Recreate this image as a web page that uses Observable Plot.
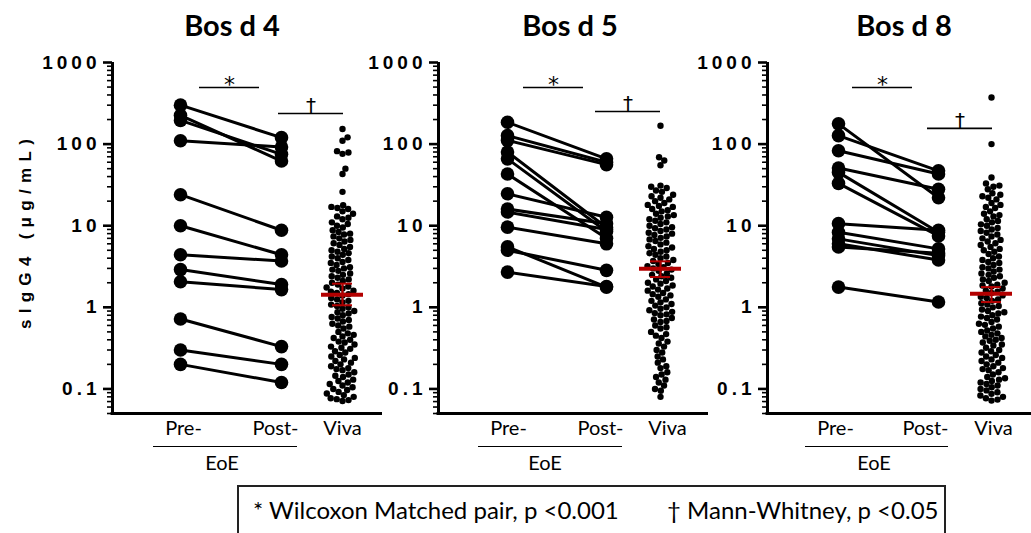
<!DOCTYPE html>
<html><head><meta charset="utf-8">
<script src="https://cdn.jsdelivr.net/npm/d3@7"></script>
<script src="https://cdn.jsdelivr.net/npm/@observablehq/plot@0.6"></script>
<style>
html,body{margin:0;padding:0;background:#fff;overflow:hidden;}
#chart{position:relative;width:1031px;height:533px;overflow:hidden;background:#fff;}
.panel{position:absolute;top:0;}
.title{position:absolute;top:10px;font-family:Lato,"Open Sans",sans-serif;font-weight:bold;font-size:29px;line-height:29px;transform:translateX(-50%);white-space:nowrap;color:#000;}
.ylab{position:absolute;left:26px;top:231px;transform:translate(-50%,-50%) rotate(-90deg);font-family:"Liberation Sans",Arial,sans-serif;font-weight:bold;font-size:17px;letter-spacing:6.3px;white-space:nowrap;}
.eoeline{position:absolute;top:446px;height:0;border-top:1.6px solid #000;}
.eoe{position:absolute;top:452px;font-family:Lato,sans-serif;font-size:20px;line-height:20px;transform:translateX(-50%);}
.foot{position:absolute;left:237px;top:485px;width:709px;height:70px;border:2px solid #222;box-sizing:border-box;font-family:Lato,sans-serif;font-size:24px;white-space:nowrap;}
.foot span{position:absolute;top:8px;}
</style></head><body><div id="chart"></div><script>
// ---------- data ----------
const panelTitles = ["Bos d 4", "Bos d 5", "Bos d 8"];
const groupLabels = ["Pre-", "Post-", "Viva"];
const majorTicks = [0.1, 1, 10, 100, 1000];
const majorTickLabels = ["0.1", "1", "10", "100", "1000"];

const bosd4Pre  = [300, 225, 195, 110, 24, 10, 4.4, 2.9, 2.06, 0.72, 0.30, 0.20];
const bosd4Post = [120, 62, 75, 92, 8.8, 4.4, 3.7, 1.9, 1.65, 0.33, 0.20, 0.12];
const bosd5Pre  = [185, 127, 111, 80, 66, 43, 24.6, 16, 14.7, 9.6, 5.5, 5.0, 2.7];
const bosd5Post = [66, 60, 56, 9.5, 8.5, 7.0, 12.7, 10.6, 9.0, 6.0, 1.77, 2.84, 1.8];
const bosd8Pre  = [177, 127, 83, 51, 45, 33, 10.6, 8.3, 6.9, 6.0, 5.5, 1.77];
const bosd8Post = [22, 47, 43, 28, 8.3, 7.5, 8.8, 5.2, 4.3, 3.8, 4.6, 1.16];

const bosd4Viva = [153,121,110,82,79,76,50,43,26,
17.8,17,16.5,16,15,14,13,12.5,12,11,10.5,10,9.5,
8.8,8.4,8,7.8,7.4,7,6.7,6.4,6.1,5.8,5.5,5.2,5,4.8,
4.6,4.4,4.2,4,3.8,3.6,3.5,3.3,3.1,3,2.9,2.8,
2.6,2.5,2.4,2.3,2.2,2.1,2,1.9,1.8,1.75,1.7,1.6,
1.55,1.5,1.45,1.4,1.3,1.25,1.2,1.15,1.08,1.04,1,0.96,
0.9,0.87,0.84,0.8,0.76,0.73,0.7,0.67,0.63,0.6,0.58,0.55,
0.5,0.48,0.46,0.44,0.42,0.4,0.38,0.37,0.35,0.33,0.32,0.31,
0.29,0.28,0.26,0.25,0.24,0.23,0.22,0.21,0.2,0.19,0.18,0.175,0.17,
0.16,0.15,0.145,0.14,0.13,0.125,0.12,0.115,0.11,0.105,0.1,0.097,
0.092,0.088,0.084,0.08,0.077,0.075,0.073,0.071];

const bosd5Viva = [168,69,63,55,
31,30,29,27,26,24,23,22,21,20,19,18,17.5,17,16,
15.5,15,14,13.5,13,12.5,12,11.5,11,10.5,10,9.6,9.3,9,
8.6,8.2,8,7.7,7.4,7.1,6.8,6.5,6.2,5.9,5.6,5.4,5.2,5,
4.8,4.6,4.4,4.2,4,3.8,3.7,3.5,3.4,3.2,3.1,3,2.9,2.8,
2.6,2.5,2.4,2.3,2.2,2.1,2,1.95,1.85,1.8,1.7,1.65,1.6,
1.5,1.45,1.4,1.35,1.25,1.2,1.15,1.1,1.05,1,0.96,0.92,
0.88,0.85,0.82,0.8,0.74,0.71,0.68,0.66,0.6,0.57,0.55,
0.5,0.47,0.45,0.42,0.38,0.36,0.33,0.3,0.28,
0.25,0.23,0.21,0.19,0.18,0.16,0.15,0.14,0.13,0.12,
0.11,0.1,0.095,0.08];

const bosd8Viva = [373,100,39,33,31,30,28,
25,24,23,22,21,19,18,17,16.5,15,14,13.5,13,
12,11.4,11,10.4,10,9.4,9,8.6,8.2,7.8,7.4,7,6.7,
6.4,6.1,5.8,5.5,5.2,5,4.8,4.5,4.2,4,3.8,3.6,
3.5,3.3,3.1,3,2.9,2.75,2.6,2.5,2.4,2.3,2.2,2.1,
2,1.9,1.85,1.8,1.7,1.6,1.55,1.5,1.4,1.35,1.3,1.25,1.2,
1.12,1.08,1.04,1,0.94,0.9,0.87,0.84,0.8,0.77,0.74,0.71,
0.66,0.63,0.61,0.58,0.55,0.52,0.5,0.48,0.46,0.44,0.42,0.4,
0.39,0.37,0.35,0.34,0.32,0.3,0.29,0.28,0.26,0.25,0.24,0.23,
0.22,0.21,0.2,0.19,0.18,0.175,0.17,0.16,0.15,0.14,0.135,0.13,
0.125,0.12,0.115,0.11,0.105,0.1,0.096,
0.091,0.087,0.083,0.08,0.077,0.074,0.072];

const vivaMean = [1.43, 2.97, 1.47];
const vivaSemLow = [1.06, 2.35, 1.16];
const vivaSemHigh = [1.95, 3.66, 1.77];

const footnoteWilcoxon = "* Wilcoxon Matched pair, p <0.001";
const footnoteMann = "† Mann-Whitney, p <0.05";
const yAxisTitle = "sIgG4 (μg/mL)";
const groupTitle = "EoE";

// ---------- layout (pixels) ----------
const panels = [
  {axisX: 112, pre: 68, post: 169, viva: 230, labX: [71,163,230], star: [87,147,494], dag: [166,231,237], titleX: 232, eoe: [41,185,110]},
  {axisX: 438, pre: 69, post: 168, viva: 222, labX: [70,162,229], star: [85,145,494], dag: [157,222,251], titleX: 570, eoe: [40,184,107]},
  {axisX: 767, pre: 71, post: 171, viva: 224, labX: [68,158,226], star: [85,145,494], dag: [160,225,156], titleX: 904, eoe: [38,181,107]}
];
const preData = [bosd4Pre, bosd5Pre, bosd8Pre];
const postData = [bosd4Post, bosd5Post, bosd8Post];
const vivaData = [bosd4Viva, bosd5Viva, bosd8Viva];

const H = 480, marginTop = 62, marginBottom = 67, marginLeft = 112, frameW = 270;
const yDomain = [0.05, 1000];
const minorTicks = [];
for (const dec of [0.01, 0.1, 1, 10, 100]) for (let k = 2; k <= 9; k++) { const v = +(k*dec).toPrecision(3); if (v >= 0.05 && v < 1000) minorTicks.push(v); }

const red = "#b30000";
const chart = document.getElementById("chart");

function swarm(values, yScale, diam) {
  const pts = values.map(v => ({value: v, py: yScale.apply(v)})).sort((a, b) => b.py - a.py);
  const placed = [];
  for (const p of pts) {
    const nb = placed.filter(q => Math.abs(q.py - p.py) < diam);
    const cands = [0];
    for (const q of nb) {
      const h = Math.sqrt(diam*diam - (q.py - p.py)**2);
      cands.push(q.dx + h, q.dx - h);
    }
    cands.sort((a, b) => Math.abs(a) - Math.abs(b));
    for (const c of cands) {
      if (nb.every(q => (q.dx - c)**2 + (q.py - p.py)**2 >= diam*diam - 1e-6)) { p.dx = c; break; }
    }
    placed.push(p);
  }
  return placed;
}

panels.forEach((P, i) => {
  const yScale = Plot.scale({y: {type: "log", domain: yDomain, range: [H - marginBottom, marginTop]}});
  const pairs = [];
  preData[i].forEach((v, j) => {
    pairs.push({id: j, pos: P.pre, value: v});
    pairs.push({id: j, pos: P.post, value: postData[i][j]});
  });
  const swarmPts = swarm(vivaData[i], yScale, 6.1).map(d => ({value: d.value, x: P.viva + d.dx}));
  const labels = groupLabels.map((t, k) => ({t, x: P.labX[k]}));

  const svg = Plot.plot({
    width: marginLeft + frameW, height: H,
    marginTop, marginBottom, marginLeft, marginRight: 0,
    style: {background: "transparent", overflow: "visible"},
    x: {type: "linear", domain: [0, frameW], axis: null},
    y: {type: "log", domain: yDomain, axis: null},
    marks: [
      Plot.ruleY(minorTicks, {y: d => d, x1: -5, x2: 0, strokeWidth: 1.6}),
      Plot.ruleY(majorTicks, {y: d => d, x1: -9, x2: 0, strokeWidth: 2.6}),
      Plot.text(majorTicks, {y: d => d, x: -12, text: (d, k) => majorTickLabels[k], textAnchor: "end",
        fontSize: 19, fontWeight: "bold", fontFamily: "Liberation Sans, Arial, sans-serif"}),
      Plot.ruleX([0], {y1: yDomain[0], y2: yDomain[1], strokeWidth: 3}),
      Plot.ruleY([yDomain[0]], {x1: -1.5, x2: frameW, strokeWidth: 3}),
      Plot.line(pairs, {x: "pos", y: "value", z: "id", stroke: "black", strokeWidth: 3}),
      Plot.dot(pairs, {x: "pos", y: "value", r: 6.8, fill: "black", stroke: "none"}),
      Plot.dot(swarmPts, {x: "x", y: "value", r: 3.2, fill: "black", stroke: "none"}),
      Plot.ruleX([P.viva], {y1: vivaSemLow[i], y2: vivaSemHigh[i], stroke: red, strokeWidth: 2}),
      Plot.ruleY([vivaSemLow[i], vivaSemHigh[i]], {y: d => d, x1: P.viva - 10, x2: P.viva + 10, stroke: red, strokeWidth: 2}),
      Plot.ruleY([vivaMean[i]], {y: d => d, x1: P.viva - 21, x2: P.viva + 21, stroke: red, strokeWidth: 4}),
      Plot.ruleY([P.star[2]], {y: d => d, x1: P.star[0], x2: P.star[1], strokeWidth: 1.6}),
      Plot.text(["*"], {x: (P.star[0] + P.star[1]) / 2, y: P.star[2], text: d => d, dy: -3, fontSize: 22, fill: "black", fontFamily: "DejaVu Sans, sans-serif"}),
      Plot.ruleY([P.dag[2]], {y: d => d, x1: P.dag[0], x2: P.dag[1], strokeWidth: 1.6}),
      Plot.text(["\u2020"], {x: (P.dag[0] + P.dag[1]) / 2, y: P.dag[2], text: d => d, dy: -8, fontSize: 20, fill: "black", fontFamily: "DejaVu Sans, sans-serif"}),
      Plot.text(labels, {x: "x", text: "t", frameAnchor: "bottom", dy: 21, fontSize: 20, fontFamily: "Lato, sans-serif"})
    ]
  });
  // letter-spaced bold tick labels, as in the reference
  svg.querySelectorAll("text").forEach(el => {
    if (majorTickLabels.includes(el.textContent)) {
      el.style.letterSpacing = "4px";
      el.style.fontSize = "19px";
      el.style.fontWeight = "bold";
      el.style.fontFamily = "'Liberation Sans', Arial, sans-serif";
    }
  });
  svg.classList.add("panel");
  svg.style.left = (P.axisX - marginLeft) + "px";
  chart.appendChild(svg);

  const t = document.createElement("div");
  t.className = "title"; t.textContent = panelTitles[i]; t.style.left = P.titleX + "px";
  chart.appendChild(t);
  const ln = document.createElement("div");
  ln.className = "eoeline"; ln.style.left = (P.axisX + P.eoe[0]) + "px"; ln.style.width = (P.eoe[1] - P.eoe[0]) + "px";
  chart.appendChild(ln);
  const e = document.createElement("div");
  e.className = "eoe"; e.textContent = groupTitle; e.style.left = (P.axisX + P.eoe[2]) + "px";
  chart.appendChild(e);
});

const yl = document.createElement("div");
yl.className = "ylab"; yl.textContent = yAxisTitle; chart.appendChild(yl);

const foot = document.createElement("div");
foot.className = "foot";
const s1 = document.createElement("span"); s1.textContent = footnoteWilcoxon; s1.style.left = "14px";
const s2 = document.createElement("span"); s2.textContent = footnoteMann; s2.style.left = "428px";
foot.appendChild(s1); foot.appendChild(s2);
chart.appendChild(foot);
</script></body></html>
